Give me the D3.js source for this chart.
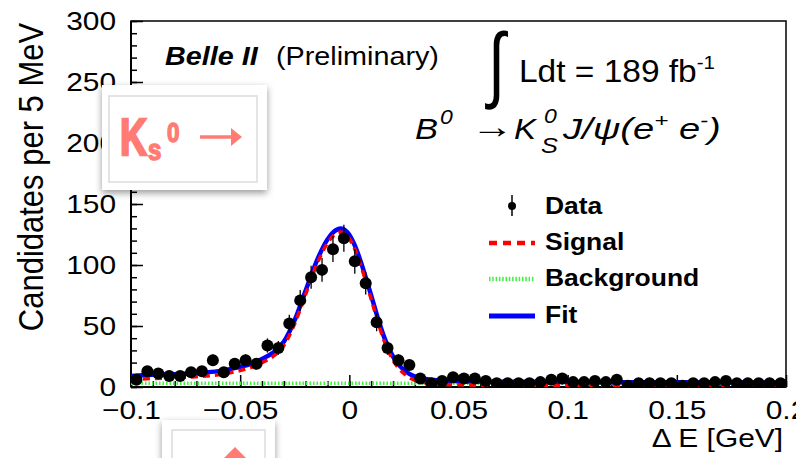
<!DOCTYPE html>
<html>
<head>
<meta charset="utf-8">
<script src="https://cdn.jsdelivr.net/npm/d3@7"></script>
<style>
  body { margin: 0; background: #fff; }
  svg text { font-family: "Liberation Sans", Arial, Helvetica, sans-serif; fill: #000; }
</style>
</head>
<body>
<svg id="paper" width="796" height="458"></svg>
<script>
// ---- data ----
const binLow = -0.1;
const binWidth = 0.005;
const counts = [6, 13, 11, 9, 9, 12, 13, 22, 12, 19, 22, 19, 34, 32, 52, 71, 90, 96, 113, 122,
  103, 85, 53, 32, 22, 18, 7, 3, 5, 8, 7, 7, 5, 3, 3, 3, 3, 4, 6, 7,
  4, 4, 5, 4, 6, 1, 3, 3, 3, 3, 1, 3, 3, 4, 5, 3, 3, 3, 3, 3];

const curveDeltaE = [-0.1, -0.09, -0.08, -0.07, -0.06, -0.05, -0.045, -0.04, -0.035, -0.03,
  -0.025, -0.02, -0.015, -0.01, -0.007, -0.004, -0.001, 0.002, 0.005, 0.008,
  0.011, 0.014, 0.017, 0.02, 0.023, 0.026, 0.03, 0.035, 0.04, 0.05,
  0.07, 0.1, 0.15, 0.2];
const fitValues = [9, 10, 10.5, 11.5, 13, 16.5, 19, 23, 28, 37,
  55, 79, 103, 121, 127.5, 130, 127, 118, 104, 87,
  69, 51, 36, 25, 17.5, 12.5, 8.5, 6.5, 5.5, 4.8,
  4.3, 4.1, 3.9, 3.7];
const signalValues = [6, 7, 7.5, 8.5, 10, 13.5, 16, 20, 25, 34,
  52, 76, 100, 118, 124.5, 127, 124, 115, 101, 84,
  66, 48, 33, 22, 14.5, 9.5, 5.5, 3.5, 2.5, 1.8,
  1.3, 1.1, 0.9, 0.7];
const backgroundDeltaE = [-0.1, 0.2];
const backgroundValues = [3, 3];

const xTicks = [-0.1, -0.05, 0, 0.05, 0.1, 0.15, 0.2];
const yTicks = [0, 50, 100, 150, 200, 250, 300];
const legendLabels = ["Data", "Signal", "Background", "Fit"];

// ---- layout ----
const frame = { left: 131, right: 786, top: 21, bottom: 387 };
const sx = 1.15; // the reference text is a bit wide
const red = "#ff0000", blue = "#0000ff", green = "#44ee44", salmon = "#ff7b74";

const svg = d3.select("#paper");

svg.append("defs").html(`
  <clipPath id="plotClip"><rect x="${frame.left}" y="${frame.top}" width="${frame.right - frame.left}" height="${frame.bottom - frame.top}"/></clipPath>
  <filter id="shadow" x="-20%" y="-20%" width="140%" height="150%">
    <feDropShadow dx="0" dy="3" stdDeviation="3.5" flood-color="#000" flood-opacity="0.4"/>
  </filter>`);

const x = d3.scaleLinear().domain([-0.1, 0.2]).range([frame.left, frame.right]);
const y = d3.scaleLinear().domain([0, 300]).range([frame.bottom, frame.top]);

// frame
svg.append("rect")
  .attr("x", frame.left).attr("y", frame.top)
  .attr("width", frame.right - frame.left).attr("height", frame.bottom - frame.top)
  .attr("fill", "none").attr("stroke", "#000").attr("stroke-width", 1.5);

// minor ticks
svg.append("g")
  .attr("transform", `translate(${frame.left},0)`)
  .call(d3.axisLeft(y).tickValues(d3.range(0, 301, 10)).tickSize(-6).tickFormat(""))
  .call((g) => g.select(".domain").remove())
  .selectAll("line").attr("stroke-width", 1.5);
svg.append("g")
  .attr("transform", `translate(0,${frame.bottom})`)
  .call(d3.axisBottom(x).tickValues(d3.range(-10, 21, 1).map((d) => d / 100)).tickSize(-6).tickFormat(""))
  .call((g) => g.select(".domain").remove())
  .selectAll("line").attr("stroke-width", 1.5);

// major ticks + labels
const yAxis = svg.append("g")
  .attr("transform", `translate(${frame.left},0)`)
  .call(d3.axisLeft(y).tickValues(yTicks).tickSize(-12).tickPadding(13));
yAxis.select(".domain").remove();
yAxis.selectAll("line").attr("stroke-width", 1.5);
yAxis.selectAll("text")
  .attr("font-size", 26).attr("font-family", "Liberation Sans, Arial, sans-serif").attr("fill", "#000")
  .attr("transform", `scale(${sx},1)`);

const fmt = (d) => (d < 0 ? "\u2212" : "") + d3.format("")(Math.abs(d));
const xAxis = svg.append("g")
  .attr("transform", `translate(0,${frame.bottom})`)
  .call(d3.axisBottom(x).tickValues(xTicks).tickSize(-12).tickPadding(14).tickFormat(fmt));
xAxis.select(".domain").remove();
xAxis.selectAll("line").attr("stroke-width", 1.5);
xAxis.selectAll("text")
  .attr("font-size", 26).attr("font-family", "Liberation Sans, Arial, sans-serif").attr("fill", "#000")
  .attr("transform", `scale(${sx},1)`);

// thick left / bottom axis lines
svg.append("line")
  .attr("x1", frame.left).attr("x2", frame.left)
  .attr("y1", frame.top).attr("y2", frame.bottom)
  .attr("stroke", "#000").attr("stroke-width", 2);
svg.append("line")
  .attr("x1", frame.left).attr("x2", frame.right)
  .attr("y1", frame.bottom).attr("y2", frame.bottom)
  .attr("stroke", "#000").attr("stroke-width", 2);

// axis titles
svg.append("text")
  .attr("transform", `translate(43,177) scale(${sx},1) rotate(-90)`)
  .attr("text-anchor", "middle").attr("font-size", 31)
  .text("Candidates per 5 MeV");
svg.append("text")
  .attr("transform", `translate(783,447) scale(${sx},1)`)
  .attr("text-anchor", "end").attr("font-size", 26)
  .text("\u0394 E [GeV]");

// curves
const plot = svg.append("g").attr("clip-path", "url(#plotClip)");
const line = d3.line()
  .x((d) => x(d[0])).y((d) => y(d[1]))
  .curve(d3.curveMonotoneX);

plot.append("path")
  .datum(d3.zip(backgroundDeltaE, backgroundValues))
  .attr("d", line)
  .attr("fill", "none").attr("stroke", green).attr("stroke-width", 3.5)
  .attr("stroke-dasharray", "1.5,2");
plot.append("path")
  .datum(d3.zip(curveDeltaE, fitValues))
  .attr("d", line)
  .attr("fill", "none").attr("stroke", blue).attr("stroke-width", 4.5);
plot.append("path")
  .datum(d3.zip(curveDeltaE, signalValues))
  .attr("d", line)
  .attr("fill", "none").attr("stroke", red).attr("stroke-width", 3.5)
  .attr("stroke-dasharray", "7,5");

// data points
const points = counts.map((n, i) => ({ e: binLow + (i + 0.5) * binWidth, n: n }));
const dataG = plot.append("g");
dataG.selectAll("line.err")
  .data(points).enter().append("line")
  .attr("class", "err")
  .attr("x1", (d) => x(d.e)).attr("x2", (d) => x(d.e))
  .attr("y1", (d) => y(d.n + Math.sqrt(d.n))).attr("y2", (d) => y(d.n - Math.sqrt(d.n)))
  .attr("stroke", "#000").attr("stroke-width", 1.3);
dataG.selectAll("circle")
  .data(points).enter().append("circle")
  .attr("cx", (d) => x(d.e)).attr("cy", (d) => y(d.n))
  .attr("r", 6).attr("fill", "#000");

// labels
svg.append("text")
  .attr("transform", `translate(165,65) scale(${sx},1)`)
  .attr("font-size", 25).attr("font-weight", "bold").attr("font-style", "italic")
  .text("Belle II");
svg.append("text")
  .attr("transform", `translate(276,65) scale(${sx},1)`)
  .attr("font-size", 25)
  .text("(Preliminary)");

svg.append("text")
  .attr("transform", "translate(488,92) scale(1,1.35)")
  .attr("font-size", 62).attr("font-family", "DejaVu Sans, sans-serif")
  .text("\u222b");
const lumi = svg.append("text")
  .attr("transform", "translate(519,82) scale(1.08,1)")
  .attr("font-size", 31);
lumi.append("tspan").text("Ldt = 189 fb");
lumi.append("tspan").attr("font-size", 19).attr("dy", -13).text("-1");

const decay = svg.append("g").attr("font-style", "italic");
decay.append("text").attr("transform", `translate(415,139) scale(${sx},1)`).attr("font-size", 30).text("B");
decay.append("text").attr("transform", `translate(440,124) scale(${sx},1)`).attr("font-size", 20).text("0");
decay.append("text").attr("transform", "translate(471,138) scale(1.25,1)").attr("font-size", 34)
  .attr("font-style", "normal").text("\u2192");
decay.append("text").attr("transform", `translate(514,139) scale(1.1,1)`).attr("font-size", 30).text("K");
decay.append("text").attr("transform", `translate(544,123) scale(${sx},1)`).attr("font-size", 20).text("0");
decay.append("text").attr("transform", `translate(541,153) scale(${sx},1)`).attr("font-size", 22).text("S");
const jpsi = decay.append("text").attr("transform", "translate(563,139) scale(1.27,1)").attr("font-size", 30);
jpsi.append("tspan").text("J/\u03c8(e");
jpsi.append("tspan").attr("font-size", 19).attr("dy", -12).text("+");
jpsi.append("tspan").attr("dy", 12).text(" e");
jpsi.append("tspan").attr("font-size", 19).attr("dy", -12).text("-");
jpsi.append("tspan").attr("dy", 12).text(")");

// legend
const legendY = [214, 250, 286, 323];
const legend = svg.append("g");
legend.selectAll("text")
  .data(legendLabels).enter().append("text")
  .attr("transform", (d, i) => `translate(545,${legendY[i]}) scale(${sx},1)`)
  .attr("font-size", 23).attr("font-weight", "bold")
  .text((d) => d);
legend.append("line")
  .attr("x1", 512).attr("x2", 512).attr("y1", 195).attr("y2", 216)
  .attr("stroke", "#000").attr("stroke-width", 1.5);
legend.append("circle").attr("cx", 512).attr("cy", 206).attr("r", 4).attr("fill", "#000");
const sample = (i, color, width, dash) => legend.append("line")
  .attr("x1", 489).attr("x2", 535)
  .attr("y1", legendY[i] - 7).attr("y2", legendY[i] - 7)
  .attr("stroke", color).attr("stroke-width", width)
  .attr("stroke-dasharray", dash);
sample(1, red, 4.5, "8,6");
sample(2, green, 4.5, "1.5,1.8");
sample(3, blue, 5, null);

// overlay stickers on top of the chart
const sticker = svg.append("g");
sticker.append("rect")
  .attr("x", 102).attr("y", 85).attr("width", 165).attr("height", 105)
  .attr("fill", "#fff").attr("filter", "url(#shadow)");
sticker.append("rect")
  .attr("x", 109).attr("y", 96).attr("width", 148).attr("height", 86)
  .attr("fill", "none").attr("stroke", "#dcdcdc").attr("stroke-width", 1.5);
sticker.append("text")
  .attr("transform", "translate(120,155) scale(0.72,1)")
  .attr("font-size", 52).attr("font-weight", "bold")
  .style("fill", salmon).style("stroke", salmon).style("stroke-width", 2.5).text("K");
sticker.append("text")
  .attr("transform", "translate(148,160) scale(0.8,1)")
  .attr("font-size", 30).attr("font-weight", "bold")
  .style("fill", salmon).style("stroke", salmon).style("stroke-width", 1.5).text("s");
sticker.append("text")
  .attr("transform", "translate(167,142) scale(0.8,1)")
  .attr("font-size", 28).attr("font-weight", "bold")
  .style("fill", salmon).style("stroke", salmon).style("stroke-width", 1.5).text("0");
sticker.append("line")
  .attr("x1", 200).attr("x2", 232).attr("y1", 137).attr("y2", 137)
  .attr("stroke", salmon).attr("stroke-width", 3.5);
sticker.append("path")
  .attr("d", "M231,128 L242,137 L231,146 Z").attr("fill", salmon);

const sticker2 = svg.append("g");
sticker2.append("rect")
  .attr("x", 162).attr("y", 420).attr("width", 113).attr("height", 60)
  .attr("fill", "#fff").attr("filter", "url(#shadow)");
sticker2.append("rect")
  .attr("x", 172).attr("y", 430).attr("width", 93).attr("height", 40)
  .attr("fill", "none").attr("stroke", "#dcdcdc").attr("stroke-width", 1.5);
sticker2.append("path")
  .attr("d", "M235,447 L247,459 L223,459 Z").attr("fill", salmon);
</script>
</body>
</html>
